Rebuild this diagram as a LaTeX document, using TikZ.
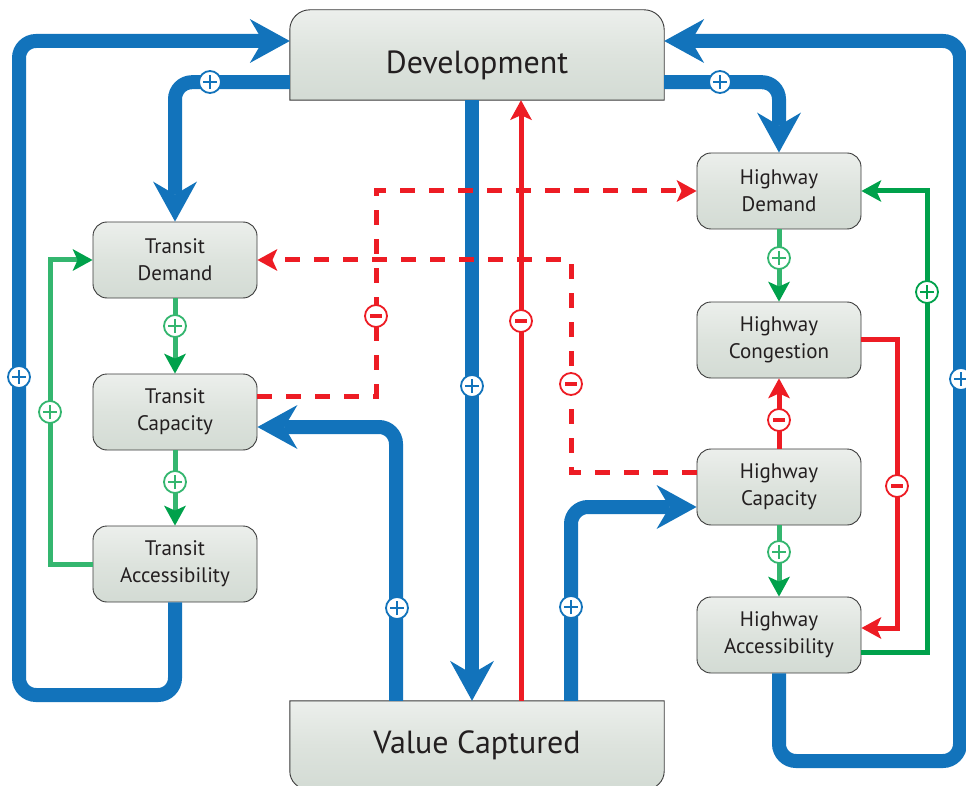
\documentclass[tikz,border=0pt]{standalone}
\usepackage{fontspec}
\setmainfont{PT Sans}
\usetikzlibrary{arrows.meta,backgrounds}
\definecolor{fblue}{HTML}{1273BB}
\definecolor{fred}{HTML}{ED1C24}
\definecolor{lgreen}{HTML}{34B66F}
\definecolor{dgreen}{HTML}{00A14B}
\definecolor{boxtop}{HTML}{ECEFEC}
\definecolor{boxmid}{HTML}{DDE3DD}
\definecolor{boxbot}{HTML}{D3DBD4}
\definecolor{boxedge}{HTML}{3A3A3A}
\definecolor{txt}{HTML}{231F20}
\begin{document}
\begin{tikzpicture}[x=1pt,y=-1pt,
  box/.style={draw=boxedge, line width=0.9pt, rounded corners=14pt, top color=boxtop, bottom color=boxbot, middle color=boxmid,
    minimum width=164pt, minimum height=76pt, align=center, font=\fontsize{21}{27}\selectfont, text=txt, inner sep=0pt},
  bigbox/.style={minimum width=374pt, font=\fontsize{32}{38}\selectfont, text=txt, inner sep=0pt},
  bigshape/.style={draw=boxedge, line width=0.9pt, top color=boxtop, bottom color=boxbot, middle color=boxmid},
  blueflow/.style={draw=fblue, line width=14pt, rounded corners=17pt,
    -{Stealth[length=40pt, width=44pt, inset=13pt, line width=0pt]}},
  redflow/.style={draw=fred, line width=5pt, -{Stealth[length=20pt, width=22pt, inset=5pt, line width=0pt]}},
  reddash/.style={redflow, dash pattern=on 15pt off 14pt},
  lgflow/.style={draw=lgreen, line width=5pt, -{Stealth[length=20pt, width=22pt, inset=5pt, line width=0pt, color=dgreen]}},
  dgflow/.style={draw=dgreen, line width=5pt, -{Stealth[length=20pt, width=22pt, inset=5pt, line width=0pt]}},
  sgn/.style={circle, fill=white, draw=#1, line width=1.8pt, minimum size=22pt, inner sep=0pt},
  sgnp/.style={sgn=#1, path picture={\draw[#1, line width=1.8pt]
      ([xshift=-7pt]path picture bounding box.center) -- ([xshift=7pt]path picture bounding box.center)
      ([yshift=-7pt]path picture bounding box.center) -- ([yshift=7pt]path picture bounding box.center);}},
  sgnm/.style={sgn=#1, path picture={\draw[#1, line width=3.6pt]
      ([xshift=-6pt]path picture bounding box.center) -- ([xshift=6pt]path picture bounding box.center);}}
]
\useasboundingbox (0,0) rectangle (966,786);

% nodes
\node[bigbox, minimum height=70pt] (dev) at (477,65) {Development};
\node[bigbox, minimum height=88pt] (val) at (477,745) {Value Captured};
\node[box] (td) at (175,260) {Transit\\Demand};
\node[box] (tc) at (175,412) {Transit\\Capacity};
\node[box] (ta) at (175,564) {Transit\\Accessibility};
\node[box] (hd) at (779,191) {Highway\\Demand};
\node[box] (hcg) at (779,340) {Highway\\Congestion};
\node[box] (hcp) at (779,487) {Highway\\Capacity};
\node[box] (ha) at (779,635) {Highway\\Accessibility};

\begin{scope}[on background layer]
\path[bigshape] (dev.south west) -- ([yshift=0pt]dev.north west)
  arc[start angle=180, end angle=90, radius=20pt] -- ([xshift=-20pt,yshift=20pt]dev.north east)
  arc[start angle=90, end angle=0, radius=20pt] -- (dev.south east) -- cycle;
\path[bigshape] (val.north west) -- ([yshift=18pt]val.south west)
  arc[start angle=180, end angle=270, radius=18pt] -- ([xshift=-18pt]val.south east)
  arc[start angle=270, end angle=360, radius=18pt] -- (val.north east) -- cycle;
\end{scope}

% blue flows
\draw[blueflow] (ta.south) -- (ta.south |- 0,695) -- (19,695) -- (19,41) -- (dev.west |- 0,41);
\draw[blueflow] (ha.south) -- (ha.south |- 0,761) -- (960,761) -- (960,41) -- (dev.east |- 0,41);
\draw[blueflow] ([yshift=18pt]dev.south west) -| (td.north);
\draw[blueflow] ([yshift=18pt]dev.south east) -| (hd.north);
\draw[blueflow] ([xshift=-5pt]dev.south) -- ([xshift=-5pt]val.north);
\draw[blueflow] ([xshift=-81pt]val.north) |- ([yshift=-15pt]tc.east);
\draw[blueflow] ([xshift=94pt]val.north) |- ([yshift=-20pt]hcp.west);

% red flows
\draw[redflow] ([xshift=44pt]val.north) -- ([xshift=44pt]dev.south);
\draw[redflow] (hcp.north) -- (hcg.south);
\draw[redflow] ([yshift=1pt]hcg.east) -- (897,339) |- ([yshift=7pt]ha.east);
\draw[reddash] ([yshift=16pt]tc.east) -- (376,396) |- (hd.west);
\draw[reddash] ([yshift=15pt]hcp.west) -- (571,472) |- (td.east);

% green flows
\draw[lgflow] (td.south) -- (tc.north);
\draw[lgflow] (tc.south) -- (ta.north);
\draw[lgflow] (ta.west) -- (50,564) |- (td.west);
\draw[lgflow] (hd.south) -- (hcg.north);
\draw[lgflow] (hcp.south) -- (ha.north);
\draw[dgflow] ([yshift=-17pt]ha.east) -- (927,652) |- (hd.east);

% signs
\node[sgnp=fblue] (s1) at (210,82) {};
\node[sgnp=fblue] (s2) at (720,82) {};
\node[sgnp=fblue] (s3) at (472,386) {};
\node[sgnp=fblue] (s4) at (397,608) {};
\node[sgnp=fblue] (s5) at (571,607) {};
\node[sgnp=fblue] (s6) at (19,377) {};
\node[sgnp=fblue] (s7) at (961,379) {};
\node[sgnp=lgreen] (s8) at (175,326) {};
\node[sgnp=lgreen] (s9) at (175,482) {};
\node[sgnp=lgreen] (s10) at (50,412) {};
\node[sgnp=lgreen] (s11) at (779,258) {};
\node[sgnp=lgreen] (s12) at (779,552) {};
\node[sgnp=dgreen] (s13) at (927,292) {};
\node[sgnm=fred] (s14) at (376,316) {};
\node[sgnm=fred] (s15) at (521,321) {};
\node[sgnm=fred] (s16) at (571,384) {};
\node[sgnm=fred] (s17) at (779,420) {};
\node[sgnm=fred] (s18) at (897,486) {};
\end{tikzpicture}
\end{document}
